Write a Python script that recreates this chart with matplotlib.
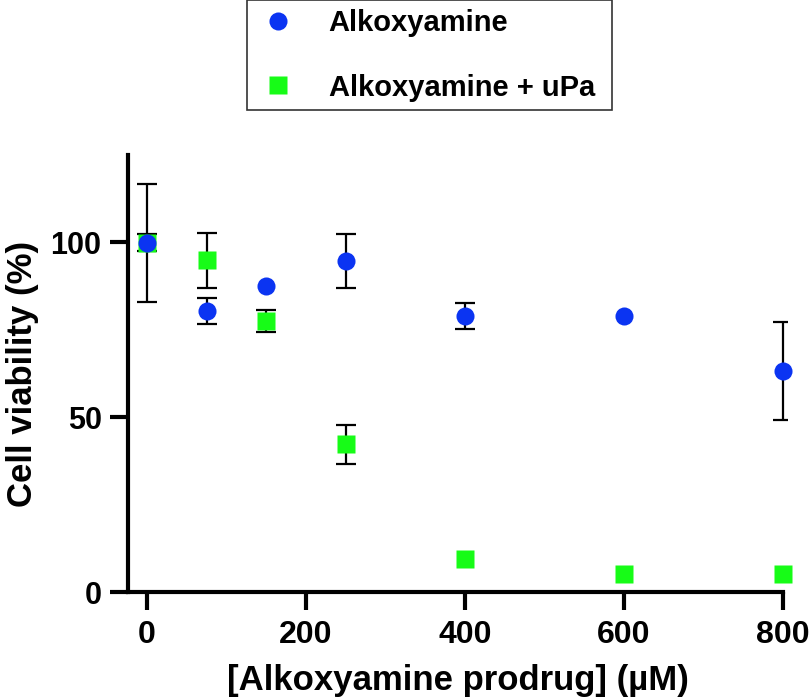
import matplotlib.pyplot as plt
from matplotlib.lines import Line2D

plt.rcParams['font.family'] = ['Liberation Sans', 'DejaVu Sans']
plt.rcParams['font.weight'] = 'bold'

# concentrations (uM)
conc = [0, 75, 150, 250, 400, 600, 800]

# Alkoxyamine alone
alk_mean = [99.8, 80.4, 87.4, 94.6, 79.0, 79.0, 63.2]
alk_err = [16.9, 3.6, 0.0, 7.7, 3.8, 0.0, 14.0]

# Alkoxyamine + uPa
upa_mean = [99.9, 94.9, 77.6, 42.2, 9.5, 5.1, 5.1]
upa_err = [2.5, 7.9, 3.1, 5.6, 0.0, 0.0, 0.0]

labels = ['Alkoxyamine', 'Alkoxyamine + uPa']
blue = '#0b34f2'
green = '#17fc17'

fig = plt.figure(figsize=(8.1, 6.99), dpi=100)
ax = fig.add_axes([128/810, (699-592)/699, 659/810, (592-155)/699])

# only draw error bars where there is an error (as the original does)
for mean, err in [(alk_mean, alk_err), (upa_mean, upa_err)]:
    xs = [x for x, e in zip(conc, err) if e > 0]
    ys = [m for m, e in zip(mean, err) if e > 0]
    es = [e for e in err if e > 0]
    ax.errorbar(xs, ys, yerr=es, fmt='none', ecolor='black',
                elinewidth=1.6, capsize=7, capthick=1.6, zorder=2)

ax.plot(conc, upa_mean, 's', color=green, markersize=12.5, mec='none',
        zorder=3, clip_on=False)
ax.plot(conc, alk_mean, 'o', color=blue, markersize=13, mec='none',
        zorder=4, clip_on=False)

ax.set_xlim(-24, 805)
ax.set_ylim(0, 125)
ax.set_xticks([0, 200, 400, 600, 800])
ax.set_yticks([0, 50, 100])

for s in ['top', 'right']:
    ax.spines[s].set_visible(False)
for s in ['left', 'bottom']:
    ax.spines[s].set_linewidth(3)
ax.spines['bottom'].set_bounds(-24, 800)

ax.tick_params(width=3, length=13, labelsize=22, pad=6)
ax.tick_params(axis='x', labelsize=23, pad=7)
for lab in ax.get_xticklabels() + ax.get_yticklabels():
    lab.set_fontweight('bold')

ax.set_xlabel('[Alkoxyamine prodrug] (µM)', fontsize=25, fontweight='bold', labelpad=10)
ax.set_ylabel('Cell viability (%)', fontsize=25, fontweight='bold', labelpad=8)

handles = [Line2D([], [], marker='o', ls='none', color=blue, markersize=13, mec='none'),
           Line2D([], [], marker='s', ls='none', color=green, markersize=12.5, mec='none')]
leg = fig.legend(handles, labels, loc='upper left',
                 bbox_to_anchor=(247/810, 1 - 1/699, (612-247)/810, 0.001),
                 mode='expand', fontsize=21, frameon=True, fancybox=False,
                 edgecolor='black', handletextpad=1.0, labelspacing=1.25,
                 borderpad=0.3, borderaxespad=0, handlelength=1.5)
leg.get_frame().set_linewidth(1.2)
for t in leg.get_texts():
    t.set_fontweight('bold')

fig.savefig('out.png', dpi=100)
